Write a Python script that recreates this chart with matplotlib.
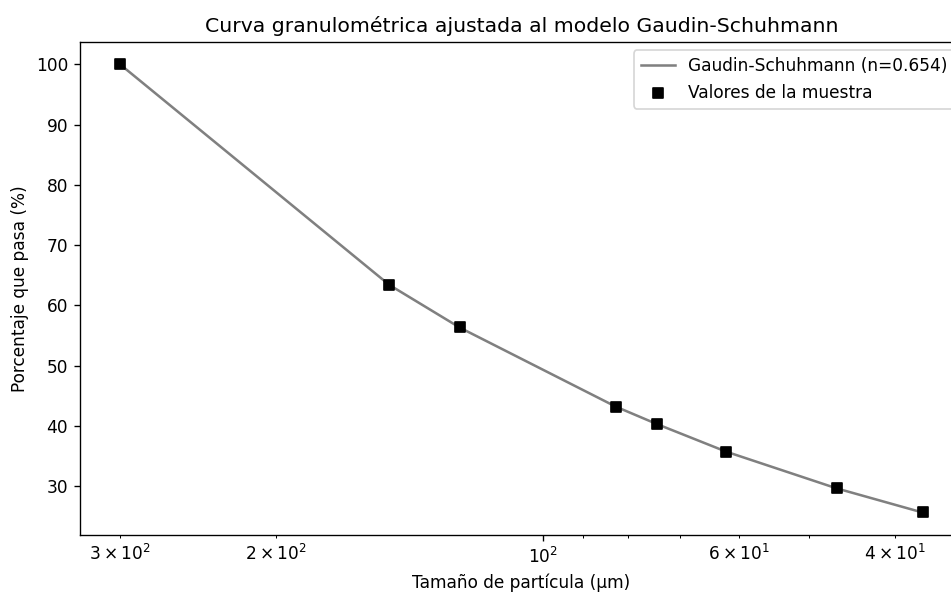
import matplotlib.pyplot as plt

# tamaños de partícula (µm) y porcentaje acumulado que pasa
tamanos = [300, 149, 124, 82.7, 74.3, 62, 46.5, 37.2]
pasa_muestra = [100, 63.4, 56.4, 43.2, 40.3, 35.7, 29.6, 25.7]
pasa_modelo = [100, 63.4, 56.3, 43.2, 40.3, 35.7, 29.6, 25.6]
n = 0.654

dpi = 122
fig = plt.figure(figsize=(951 / dpi, 595 / dpi), dpi=dpi)
ax = fig.add_axes([80 / 951, 60 / 595, 883 / 951, 493 / 595])

ax.plot(tamanos, pasa_modelo, color='gray', linewidth=1.5,
        label=f'Gaudin-Schuhmann (n={n})')
ax.scatter(tamanos, pasa_muestra, marker='s', color='black', s=36,
           zorder=3, label='Valores de la muestra')

ax.set_xscale('log')
ax.invert_xaxis()
ax.set_xlabel('Tamaño de partícula (µm)')
ax.set_ylabel('Porcentaje que pasa (%)')
ax.set_title('Curva granulométrica ajustada al modelo Gaudin-Schuhmann', fontsize=12)
ax.legend(loc='upper right')

fig.savefig('out.png', dpi=dpi)
